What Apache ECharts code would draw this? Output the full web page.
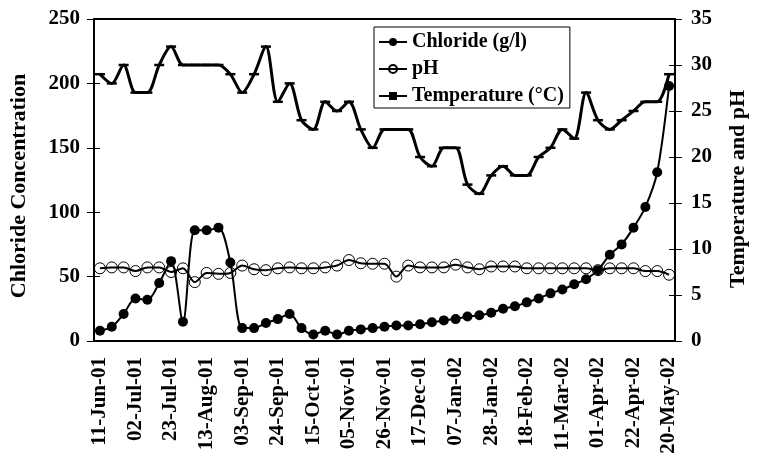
<!DOCTYPE html>
<html><head><meta charset="utf-8">
<script src="https://cdn.jsdelivr.net/npm/echarts@6/dist/echarts.min.js"></script>
<style>html,body{margin:0;padding:0;background:#fff}#c{width:757px;height:459px}</style>
</head><body><div id="c"></div>
<script>
const categories = ['11-Jun-01','18-Jun-01','25-Jun-01','02-Jul-01','09-Jul-01','16-Jul-01','23-Jul-01','30-Jul-01','06-Aug-01','13-Aug-01','20-Aug-01','27-Aug-01','03-Sep-01','10-Sep-01','17-Sep-01','24-Sep-01','01-Oct-01','08-Oct-01','15-Oct-01','22-Oct-01','29-Oct-01','05-Nov-01','12-Nov-01','19-Nov-01','26-Nov-01','03-Dec-01','10-Dec-01','17-Dec-01','24-Dec-01','31-Dec-01','07-Jan-02','14-Jan-02','21-Jan-02','28-Jan-02','04-Feb-02','11-Feb-02','18-Feb-02','25-Feb-02','04-Mar-02','11-Mar-02','18-Mar-02','25-Mar-02','01-Apr-02','08-Apr-02','15-Apr-02','22-Apr-02','29-Apr-02','06-May-02','20-May-02'];
const chloride = [8,11,21,33,32,45,62,15,86,86,88,61,10,10,14,17,21,10,5,8,5,8,9,10,11,12,12,13,14.5,16,17,19,20,22,25,27,30,33,37,40,44,48,55,67,75,88,104,131,198];
const ph = [7.9,8.0,8.0,7.6,8.0,8.0,7.5,7.9,6.4,7.4,7.3,7.4,8.2,7.8,7.7,7.9,8.0,7.9,7.9,8.0,8.2,8.8,8.45,8.4,8.4,7.0,8.2,8.0,8.0,8.0,8.3,8.0,7.8,8.1,8.1,8.1,7.9,7.9,7.9,7.9,7.9,7.9,7.7,7.9,7.9,7.9,7.6,7.6,7.2];
const temperature = [29,28,30,27,27,30,32,30,30,30,30,29,27,29,32,26,28,24,23,26,25,26,23,21,23,23,23,20,19,21,21,17,16,18,19,18,18,20,21,23,22,27,24,23,24,25,26,26,29];
const leftAxisName = 'Chloride Concentration';
const rightAxisName = 'Temperature and pH';
const seriesNames = ['Chloride (g/l)', 'pH', 'Temperature (°C)'];

const F = '"Liberation Serif","Times New Roman",serif';
const txt = {fontFamily: F, fontWeight: 'bold', color: '#000'};
const chart = echarts.init(document.getElementById('c'));
const blk = {color: '#000', width: 2};
chart.setOption({
  animation: false,
  backgroundColor: '#fff',
  grid: {left: 93, right: 75, top: 19, bottom: 118, show: true, borderColor: '#000', borderWidth: 2},
  legend: {
    orient: 'vertical', left: 374, top: 27,
    borderColor: '#000', borderWidth: 1, padding: [5, 6, 2, 4],
    itemWidth: 28, itemHeight: 10, itemGap: 7,
    textStyle: Object.assign({fontSize: 20, lineHeight: 20}, txt),
    data: seriesNames
  },
  xAxis: [
    {type: 'category', data: categories, boundaryGap: true,
     axisLine: {lineStyle: blk},
     axisTick: {interval: 0, length: 5, lineStyle: {color: '#000', width: 1}},
     axisLabel: Object.assign({interval: 2, rotate: 90, margin: 16, fontSize: 21}, txt)},
    {type: 'category', data: categories, boundaryGap: true, position: 'bottom',
     axisLine: {show: false},
     axisTick: {inside: true, interval: 0, length: 4, lineStyle: {color: '#000', width: 1}},
     axisLabel: {show: false}}
  ],
  yAxis: [
    {type: 'value', min: 0, max: 250, interval: 50, position: 'left',
     name: leftAxisName, nameLocation: 'middle', nameGap: 64,
     nameTextStyle: Object.assign({fontSize: 22, padding: [0, 12, 0, 0]}, txt),
     axisLine: {show: true, lineStyle: blk},
     axisTick: {show: true, length: 7, lineStyle: {color: '#000', width: 1}},
     splitLine: {show: false},
     axisLabel: Object.assign({fontSize: 21, margin: 14}, txt)},
    {type: 'value', min: 0, max: 35, interval: 5, position: 'right',
     name: rightAxisName, nameLocation: 'middle', nameGap: 52,
     nameTextStyle: Object.assign({fontSize: 22, padding: [0, 18, 0, 0]}, txt),
     axisLine: {show: true, lineStyle: blk},
     axisTick: {show: true, length: 7, lineStyle: {color: '#000', width: 1}},
     splitLine: {show: false},
     axisLabel: Object.assign({fontSize: 21, margin: 16}, txt)},
    {type: 'value', min: 0, max: 250, interval: 50, position: 'left',
     axisLine: {show: false}, splitLine: {show: false}, axisLabel: {show: false},
     axisTick: {show: true, inside: true, length: 6, lineStyle: {color: '#000', width: 1}}},
    {type: 'value', min: 0, max: 35, interval: 5, position: 'right',
     axisLine: {show: false}, splitLine: {show: false}, axisLabel: {show: false},
     axisTick: {show: true, inside: true, length: 6, lineStyle: {color: '#000', width: 1}}}
  ],
  series: [
    {name: seriesNames[1], type: 'line', yAxisIndex: 1, data: ph, smooth: 0.3,
     showAllSymbol: true, symbol: 'circle', symbolSize: 11,
     itemStyle: {color: 'rgba(0,0,0,0)', borderColor: '#000', borderWidth: 1},
     lineStyle: {color: '#000', width: 2}, z: 2},
    {name: seriesNames[2], type: 'line', yAxisIndex: 1, data: temperature, smooth: 0.3,
     showAllSymbol: true, symbol: 'rect', symbolSize: [10, 2.5],
     itemStyle: {color: '#000'},
     lineStyle: {color: '#000', width: 3}, z: 3},
    {name: seriesNames[0], type: 'line', yAxisIndex: 0, data: chloride, smooth: 0.3,
     showAllSymbol: true, symbol: 'circle', symbolSize: 10,
     itemStyle: {color: '#000'},
     lineStyle: {color: '#000', width: 2}, z: 4}
  ]
});
</script></body></html>
